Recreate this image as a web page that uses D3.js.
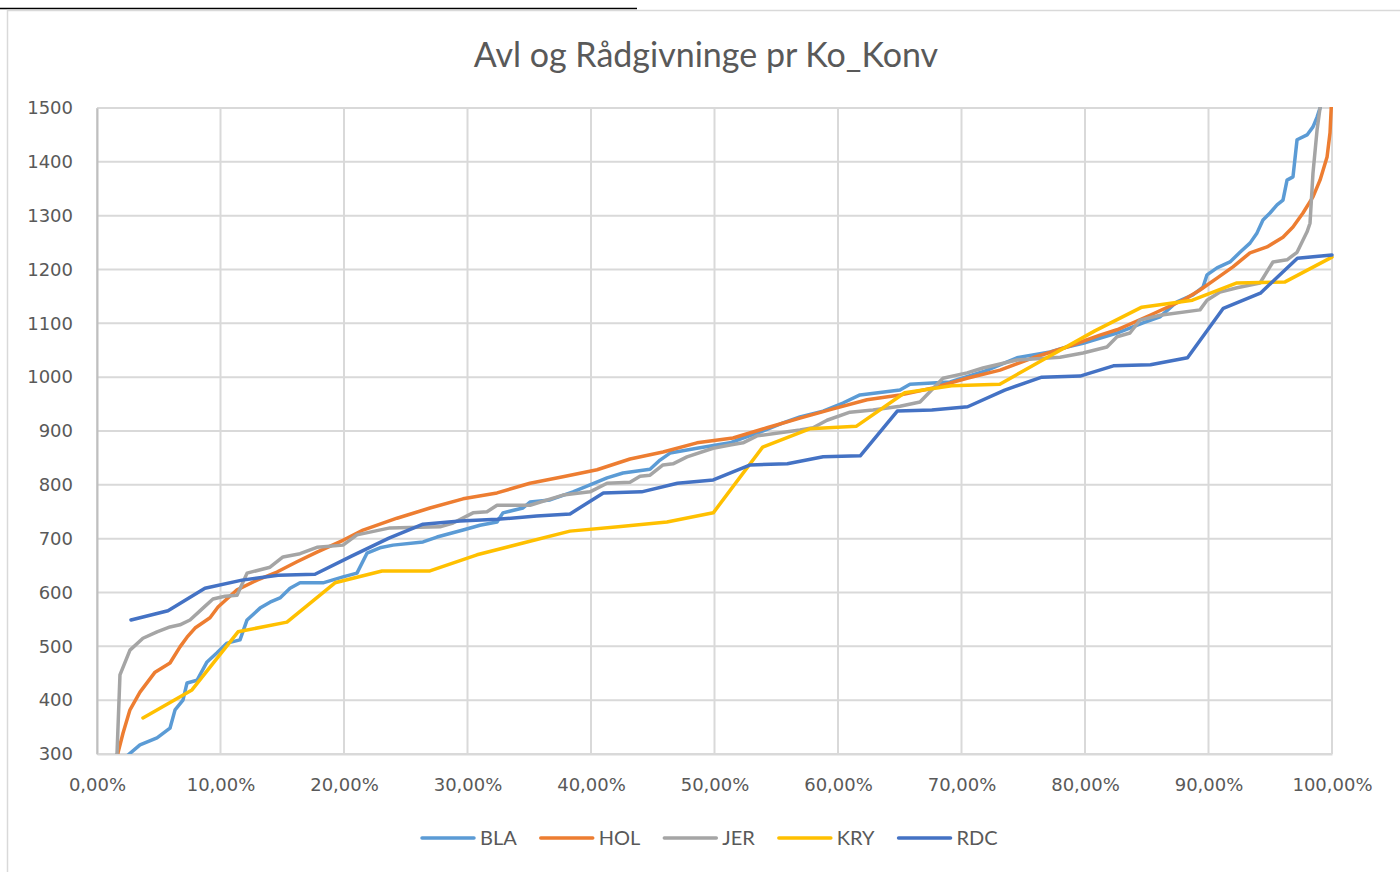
<!DOCTYPE html>
<html>
<head>
<meta charset="utf-8">
<script src="https://cdn.jsdelivr.net/npm/d3@7"></script>
<style>
  html, body { margin: 0; padding: 0; background: #ffffff; }
  svg { display: block; }
</style>
</head>
<body>
<svg id="chart" width="1400" height="872"></svg>
<script>
// ---------- DATA ----------
const title = "Avl og Rådgivninge pr Ko_Konv";
const seriesNames = ["BLA", "HOL", "JER", "KRY", "RDC"];
const seriesColors = ["#5B9BD5", "#ED7D31", "#A5A5A5", "#FFC000", "#4472C4"];
const yTicks = [300, 400, 500, 600, 700, 800, 900, 1000, 1100, 1200, 1300, 1400, 1500];
const xTicks = [0, 10, 20, 30, 40, 50, 60, 70, 80, 90, 100];

// x = percentile (%), y = value
const BLA = [
  [2.3,280],[2.51,298],[3.48,317],[4.86,330],[5.91,348],[6.32,382],[6.96,400],[7.29,432],[8.10,437],
  [8.91,471],[9.72,488],[10.53,506],[11.58,512],[12.15,549],[13.20,571],[14.01,582],[14.82,590],
  [15.63,608],[16.44,618],[18.30,618],[19.92,629],[21.05,636],[21.86,673],[22.91,683],[23.97,688],
  [26.40,694],[27.53,703],[29.64,716],[31.01,725],[32.39,731],[32.87,748],[34.49,757],[35.06,768],
  [36.68,772],[38.54,787],[39.92,800],[41.30,813],[42.59,822],[44.78,829],[45.59,846],[46.40,859],
  [48.58,868],[51.26,878],[52.31,887],[53.68,898],[55.55,915],[56.92,926],[58.79,937],[60.40,952],
  [61.78,967],[65.02,976],[65.83,987],[69.07,991],[71.74,1010],[74.49,1036],[77.17,1047],[78.54,1056],
  [79.84,1063],[82.59,1082],[84.70,1101],[86.07,1112],[87.45,1140],[88.74,1153],[89.55,1167],
  [89.88,1190],[90.69,1203],[91.74,1214],[92.55,1232],[93.36,1249],[93.93,1268],[94.41,1292],
  [94.98,1305],[95.55,1320],[96.03,1329],[96.36,1366],[96.84,1372],[97.17,1441],[97.98,1450],
  [98.46,1465],[98.79,1483],[99.03,1500],[99.4,1533]
];
const HOL = [
  [1.46,250],[1.70,302],[2.11,339],[2.67,382],[3.48,415],[4.70,452],[5.91,469],[6.72,499],[7.29,517],
  [7.94,534],[9.15,553],[9.80,573],[11.34,605],[12.96,623],[14.57,638],[16.19,657],[17.81,675],
  [19.92,697],[21.54,716],[24.29,738],[26.96,757],[29.64,774],[32.39,785],[35.06,803],[37.73,815],
  [40.49,828],[43.16,848],[45.83,861],[48.58,878],[51.50,887],[54.25,906],[56.92,924],[59.60,941],
  [62.35,958],[65.02,967],[67.69,980],[70.45,998],[73.12,1013],[75.79,1036],[78.54,1056],[81.21,1078],
  [82.59,1088],[85.26,1115],[87.94,1143],[89.31,1162],[90.69,1184],[91.98,1205],[93.36,1231],
  [94.74,1242],[96.03,1260],[96.84,1279],[97.65,1305],[98.46,1335],[99.03,1366],[99.60,1409],
  [99.84,1454],[100,1530]
];
const JER = [
  [1.46,250],[1.62,300],[1.86,447],[2.67,493],[3.72,515],[4.86,527],[5.91,536],[6.72,540],[7.53,549],
  [8.58,571],[9.39,588],[10.36,593],[11.34,595],[12.15,636],[14.01,647],[15.06,666],[16.44,672],
  [17.81,684],[19.92,688],[21.05,707],[23.72,720],[27.77,722],[28.83,729],[30.45,748],[31.58,750],
  [32.39,762],[35.06,762],[37.73,781],[39.92,787],[41.30,803],[43.16,805],[43.97,816],[44.78,818],
  [45.83,837],[46.64,839],[47.77,852],[49.88,868],[51.26,874],[52.31,878],[53.44,891],[56.92,902],
  [57.98,906],[59.11,920],[60.97,935],[62.83,939],[65.02,946],[66.64,954],[68.50,998],[70.45,1008],
  [71.74,1017],[74.49,1032],[77.98,1037],[79.84,1045],[81.78,1056],[82.59,1075],[83.64,1082],
  [84.45,1106],[86.07,1115],[89.31,1125],[89.88,1143],[90.93,1158],[92.31,1166],[94.17,1175],
  [95.22,1214],[96.36,1218],[97.17,1232],[97.98,1270],[98.22,1286],[98.46,1379],[98.79,1459],
  [99.03,1500],[99.27,1533]
];
const KRY = [
  [3.72,367],[7.69,419],[11.42,527],[15.38,545],[19.27,618],[23.08,640],[26.96,640],[30.77,670],
  [34.5,692],[38.3,714],[42.2,722],[46.15,731],[49.9,748],[53.9,870],[57.7,904],[61.5,909],
  [65.4,971],[69.2,984],[73.1,987],[76.9,1036],[80.8,1086],[84.6,1130],[88.7,1143],[92.3,1175],
  [96.2,1177],[100,1223]
];
const RDC = [
  [2.75,549],[5.75,566],[8.74,608],[11.74,623],[14.66,632],[17.65,634],[20.65,668],[23.64,701],
  [26.4,727],[29.4,733],[32.4,736],[35.6,742],[38.3,746],[41.0,785],[44.1,787],[47.0,803],[49.9,809],
  [52.9,837],[55.9,839],[58.8,852],[61.8,854],[64.8,937],[67.6,939],[70.5,945],[73.5,976],[76.5,1000],
  [79.6,1002],[82.3,1021],[85.3,1023],[88.3,1036],[91.2,1128],[94.2,1156],[97.2,1221],[100,1227]
];
const seriesData = [BLA, HOL, JER, KRY, RDC];

// ---------- LAYOUT ----------
const svg = d3.select("#chart");
const plot = { left: 97, right: 1332, top: 108, bottom: 754 };

const x = d3.scaleLinear().domain([0, 100]).range([plot.left, plot.right]);
const y = d3.scaleLinear().domain([300, 1500]).range([plot.bottom, plot.top]);

// page decorations (chart frame)
svg.append("line").attr("x1", 0).attr("x2", 637).attr("y1", 8.5).attr("y2", 8.5)
  .attr("stroke", "#000").attr("stroke-width", 1.5);
svg.append("rect").attr("x", 7.5).attr("y", 10.5).attr("width", 1400).attr("height", 900)
  .attr("fill", "#fff").attr("stroke", "#d9d9d9").attr("stroke-width", 1.5);

// title
svg.append("text").attr("x", 706).attr("y", 67)
  .attr("text-anchor", "middle")
  .attr("font-family", "Lato, 'Open Sans', sans-serif")
  .attr("font-size", 34).attr("fill", "#595959")
  .text(title);

// gridlines
const grid = svg.append("g");
grid.selectAll(".hg").data(yTicks).join("line")
  .attr("x1", plot.left).attr("x2", plot.right)
  .attr("y1", d => y(d)).attr("y2", d => y(d))
  .attr("stroke", "#d9d9d9").attr("stroke-width", 2);
grid.selectAll(".vg").data(xTicks).join("line")
  .attr("x1", d => x(d)).attr("x2", d => x(d))
  .attr("y1", plot.top).attr("y2", plot.bottom)
  .attr("stroke", "#d9d9d9").attr("stroke-width", 2);

// axes
const yAxis = d3.axisLeft(y).tickValues(yTicks).tickSize(0).tickPadding(24).tickFormat(d => d);
const gy = svg.append("g").attr("transform", `translate(${plot.left},0)`).call(yAxis);
gy.select(".domain").attr("stroke", "#bfbfbf").attr("stroke-width", 2);
gy.selectAll("text").attr("font-family", "'DejaVu Sans', sans-serif").attr("font-size", 18).attr("fill", "#595959");

const fmtPct = d => d3.format(".2f")(d).replace(".", ",") + "%";
const xAxis = d3.axisBottom(x).tickValues(xTicks).tickSize(0).tickPadding(24).tickFormat(fmtPct);
const gx = svg.append("g").attr("transform", `translate(0,${plot.bottom})`).call(xAxis);
gx.select(".domain").attr("stroke", "#d9d9d9").attr("stroke-width", 2);
gx.selectAll("text").attr("font-family", "'DejaVu Sans', sans-serif").attr("font-size", 18).attr("fill", "#595959");

// clip
svg.append("clipPath").attr("id", "clip").append("rect")
  .attr("x", plot.left).attr("y", plot.top - 1)
  .attr("width", plot.right - plot.left + 3).attr("height", plot.bottom - plot.top + 1);

const line = d3.line().x(d => x(d[0])).y(d => y(d[1]));
const gl = svg.append("g").attr("clip-path", "url(#clip)");
seriesData.forEach((data, i) => {
  gl.append("path").datum(data)
    .attr("d", line).attr("fill", "none")
    .attr("stroke", seriesColors[i]).attr("stroke-width", 3.5)
    .attr("stroke-linejoin", "round").attr("stroke-linecap", "round");
});

// legend
const lg = svg.append("g");
const legendFont = "Lato, 'Open Sans', sans-serif";
let cx = 0;
seriesNames.forEach((name, i) => {
  const g = lg.append("g");
  g.append("line").attr("x1", cx).attr("x2", cx + 52).attr("y1", 838).attr("y2", 838)
    .attr("stroke", seriesColors[i]).attr("stroke-width", 3.5).attr("stroke-linecap", "round");
  const t = g.append("text").attr("x", cx + 58).attr("y", 845)
    .attr("font-family", legendFont).attr("font-size", 20).attr("fill", "#595959").text(name);
  const w = t.node().getComputedTextLength();
  cx += 58 + w + 24;
});
const totalW = cx - 24;
lg.attr("transform", `translate(${Math.round(710 - totalW / 2)},0)`);
</script>
</body>
</html>
